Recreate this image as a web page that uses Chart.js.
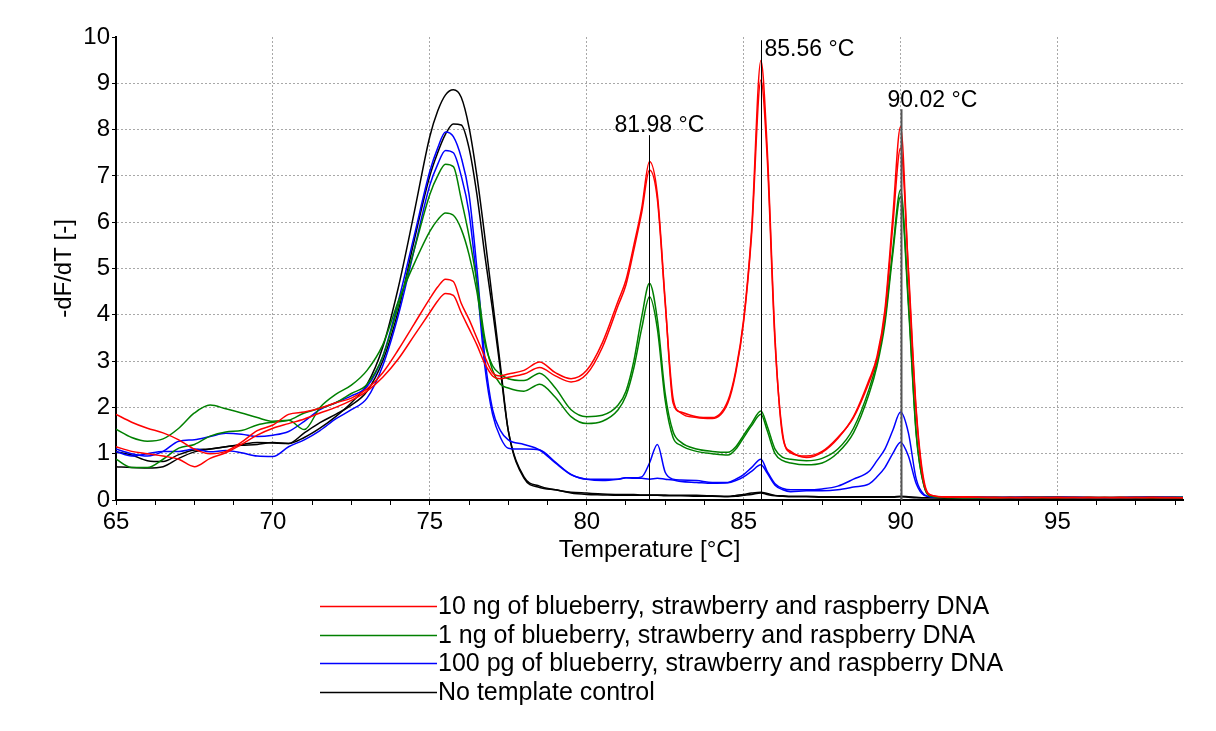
<!DOCTYPE html>
<html><head><meta charset="utf-8">
<script src="https://cdn.jsdelivr.net/npm/chart.js@4.4.1/dist/chart.umd.min.js"></script>
<style>html,body{margin:0;padding:0;background:#fff;} #wrap{width:1216px;height:731px;position:relative;}</style>
</head><body><div id="wrap"><canvas id="c"></canvas></div>
<script>
// ---- DATA ----
const temps = [65,65.5,66,66.5,67,67.5,68,68.5,69,69.5,70,70.5,71,71.5,72,72.5,73,73.5,74,74.5,75,
  75.25,75.5,75.75,76,76.25,76.5,76.75,77,77.25,77.5,
  78,78.5,79,79.5,80,80.5,81,
  81.25,81.5,81.75,82,82.25,82.5,82.75,83,
  83.5,84,84.5,
  84.75,85,85.25,85.55,85.75,86,86.25,86.5,
  87,87.5,88,88.5,89,
  89.25,89.5,89.75,90,90.25,90.5,90.75,91,
  91.5,92,
  93,94,95,96,97,98,99];

const red1 = [1.85,1.68,1.55,1.45,1.3,1.1,1.0,1.05,1.25,1.5,1.62,1.85,1.9,1.98,2.1,2.2,2.4,2.75,3.25,3.8,4.35,
  4.6,4.77,4.72,4.25,3.9,3.5,3.1,2.75,2.68,2.72,
  2.8,2.98,2.75,2.62,2.8,3.4,4.3,
  4.75,5.5,6.3,7.31,6.6,4.3,2.1,1.9,
  1.8,1.78,2.15,
  2.8,3.9,5.8,9.49,7.6,3.5,1.35,1.05,
  0.92,1.03,1.33,1.8,2.6,
  3.1,4.1,6.1,8.06,4.9,1.88,0.35,0.1,
  0.07,0.06,
  0.06,0.05,0.06,0.05,0.06,0.05,0.05];
const red2 = [1.15,1.05,1.0,0.95,0.88,0.72,0.9,1.02,1.2,1.4,1.55,1.65,1.75,1.88,2.0,2.15,2.35,2.65,3.05,3.55,4.05,
  4.3,4.46,4.42,4.05,3.7,3.35,2.95,2.68,2.62,2.65,
  2.72,2.86,2.68,2.55,2.72,3.3,4.2,
  4.65,5.4,6.2,7.13,6.5,4.25,2.2,1.88,
  1.78,1.76,2.1,
  2.75,3.85,5.7,9.07,7.4,3.4,1.4,1.02,
  0.95,1.05,1.35,1.78,2.55,
  3.05,4.0,5.9,7.6,5.0,1.95,0.4,0.1,
  0.06,0.07,
  0.05,0.06,0.05,0.06,0.05,0.06,0.05];
const green1 = [0.88,0.7,0.7,0.88,1.12,1.2,1.38,1.47,1.5,1.62,1.68,1.72,1.88,1.98,2.1,2.3,2.5,3.1,4.2,5.4,6.6,
  7.0,7.25,7.2,6.5,5.7,4.7,3.5,2.8,2.5,2.42,
  2.35,2.5,2.22,1.8,1.65,1.7,1.95,
  2.25,2.85,3.7,4.39,3.7,2.15,1.35,1.18,
  1.05,1.0,0.97,
  1.1,1.35,1.6,1.85,1.5,1.0,0.85,0.8,
  0.76,0.8,1.02,1.45,2.3,
  2.9,3.8,5.3,6.55,4.2,1.4,0.3,0.08,
  0.06,0.05,
  0.06,0.05,0.05,0.06,0.05,0.06,0.05];
const green2 = [1.53,1.35,1.27,1.32,1.55,1.88,2.05,1.97,1.88,1.78,1.7,1.72,1.52,2.0,2.28,2.48,2.8,3.35,4.3,5.1,5.8,
  6.05,6.2,6.15,5.85,5.3,4.5,3.4,2.9,2.72,2.62,
  2.58,2.74,2.42,1.95,1.8,1.83,2.05,
  2.35,3.0,3.95,4.68,3.9,2.3,1.48,1.25,
  1.1,1.05,1.03,
  1.15,1.4,1.65,1.92,1.6,1.1,0.92,0.88,
  0.85,0.9,1.1,1.55,2.4,
  3.0,3.9,5.4,6.7,4.3,1.45,0.3,0.08,
  0.05,0.06,
  0.05,0.06,0.06,0.05,0.06,0.05,0.06];
const blue1 = [1.1,1.0,0.95,1.05,1.27,1.3,1.37,1.44,1.42,1.37,1.4,1.48,1.7,1.95,2.1,2.25,2.45,3.1,4.3,5.7,7.1,
  7.6,7.95,7.85,7.4,6.6,5.0,3.1,1.95,1.5,1.3,
  1.2,1.08,0.8,0.55,0.45,0.45,0.45,
  0.48,0.48,0.5,0.8,1.2,0.6,0.45,0.43,
  0.42,0.38,0.38,
  0.45,0.55,0.7,0.88,0.62,0.35,0.25,0.22,
  0.22,0.24,0.3,0.45,0.62,
  0.85,1.1,1.5,1.9,1.45,0.45,0.12,0.07,
  0.06,0.07,
  0.06,0.07,0.06,0.05,0.06,0.07,0.06];
const blue2 = [1.05,0.95,1.0,1.05,1.05,1.1,1.04,1.07,1.02,0.95,0.94,1.15,1.3,1.5,1.75,1.95,2.2,2.9,4.0,5.4,6.8,
  7.25,7.55,7.5,7.0,6.2,4.7,2.9,1.85,1.35,1.12,
  1.1,1.08,0.82,0.55,0.45,0.42,0.45,
  0.48,0.47,0.47,0.45,0.47,0.45,0.43,0.4,
  0.38,0.36,0.37,
  0.42,0.5,0.62,0.76,0.58,0.32,0.22,0.18,
  0.2,0.2,0.22,0.28,0.35,
  0.5,0.7,1.0,1.25,0.95,0.35,0.1,0.07,
  0.07,0.06,
  0.06,0.05,0.07,0.06,0.05,0.06,0.06];
const black1 = [1.04,0.97,0.85,0.83,0.98,1.08,1.1,1.15,1.2,1.24,1.23,1.22,1.35,1.55,1.8,2.1,2.5,3.3,4.6,6.2,7.85,
  8.4,8.75,8.86,8.7,8.05,7.0,5.7,4.3,2.9,1.5,
  0.47,0.27,0.22,0.17,0.15,0.13,0.12,
  0.12,0.12,0.11,0.11,0.11,0.11,0.1,0.1,
  0.1,0.09,0.08,
  0.1,0.12,0.15,0.17,0.14,0.1,0.09,0.08,
  0.08,0.07,0.07,0.07,0.07,
  0.07,0.07,0.07,0.08,0.07,0.06,0.05,0.05,
  0.05,0.05,
  0.05,0.04,0.05,0.04,0.05,0.04,0.05];
const black2 = [0.72,0.7,0.69,0.72,0.9,1.04,1.1,1.15,1.18,1.2,1.24,1.22,1.45,1.67,1.85,2.05,2.35,3.0,4.1,5.6,7.0,
  7.5,7.9,8.12,8.1,7.6,6.6,5.3,4.1,2.8,1.5,
  0.5,0.3,0.22,0.15,0.12,0.11,0.1,
  0.1,0.1,0.1,0.1,0.1,0.09,0.09,0.09,
  0.08,0.08,0.07,
  0.08,0.1,0.12,0.15,0.12,0.09,0.08,0.07,
  0.07,0.06,0.06,0.06,0.06,
  0.06,0.06,0.06,0.07,0.06,0.05,0.05,0.05,
  0.04,0.05,
  0.05,0.04,0.04,0.05,0.04,0.05,0.04];

const seriesNames = [
  '10 ng of blueberry, strawberry and raspberry DNA',
  '1 ng of blueberry, strawberry and raspberry DNA',
  '100 pg of blueberry, strawberry and raspberry DNA',
  'No template control'
];
const markerTemps = [81.98, 85.56, 90.02];
const markerTops = [7.88, 9.93, 8.44];
const markerLabels = ['81.98 °C', '85.56 °C', '90.02 °C'];

// ---- STYLE ----
const FONT = "'Liberation Sans', Arial, sans-serif";
const seriesColors = ['#ff0000', '#008000', '#0000ff', '#000000'];
const groups = [[red1, red2], [green1, green2], [blue1, blue2], [black1, black2]];
const markerStyle = [
  {color: '#000', width: 1, dx: -35, textY: 132},
  {color: '#000', width: 1, dx: 3, textY: 56},
  {color: '#555', width: 2, dx: -14, textY: 107}
];

const datasets = [];
groups.forEach((g, gi) => {
  g.forEach((vals, k) => {
    datasets.push({
      label: seriesNames[gi] + ' #' + (k + 1),
      data: temps.map((t, i) => ({x: t, y: vals[i]})),
      borderColor: seriesColors[gi],
      borderWidth: 1.5,
      pointRadius: 0,
      fill: false,
      cubicInterpolationMode: 'monotone'
    });
  });
});

const isMult = (v, m) => Math.abs(v / m - Math.round(v / m)) < 1e-6;

const markersPlugin = {
  id: 'markers',
  afterDatasetsDraw(chart) {
    const {ctx, scales: {x, y}} = chart;
    ctx.save();
    markerTemps.forEach((t, i) => {
      const px = Math.round(x.getPixelForValue(t)) + 0.5;
      const st = markerStyle[i];
      ctx.strokeStyle = st.color;
      ctx.lineWidth = st.width;
      ctx.beginPath();
      ctx.moveTo(px, y.getPixelForValue(0));
      ctx.lineTo(px, y.getPixelForValue(markerTops[i]));
      ctx.stroke();
      ctx.fillStyle = '#000';
      ctx.font = '23px ' + FONT;
      ctx.textAlign = 'left';
      ctx.textBaseline = 'alphabetic';
      ctx.fillText(markerLabels[i], px + st.dx, st.textY);
    });
    ctx.restore();
  }
};

const legendPlugin = {
  id: 'customLegend',
  afterDraw(chart) {
    const {ctx} = chart;
    ctx.save();
    ctx.font = '25px ' + FONT;
    ctx.textBaseline = 'middle';
    ctx.textAlign = 'left';
    seriesNames.forEach((name, i) => {
      const yy = 606 + i * 28.7;
      ctx.strokeStyle = seriesColors[i];
      ctx.lineWidth = 1.5;
      ctx.beginPath();
      ctx.moveTo(320, Math.round(yy) + 0.5);
      ctx.lineTo(437, Math.round(yy) + 0.5);
      ctx.stroke();
      ctx.fillStyle = '#000';
      ctx.fillText(name, 438, yy + 1);
    });
    ctx.restore();
  }
};

new Chart(document.getElementById('c'), {
  type: 'line',
  data: {datasets},
  plugins: [markersPlugin, legendPlugin],
  options: {
    responsive: true,
    maintainAspectRatio: false,
    animation: false,
    devicePixelRatio: 1,
    layout: {padding: {left: 0, top: 37, right: 33, bottom: 161}},
    plugins: {legend: {display: false}, tooltip: {enabled: false}},
    scales: {
      x: {
        type: 'linear', min: 65, max: 99,
        afterFit(s) { s.height = 70; },
        ticks: {
          stepSize: 1.25, includeBounds: false, autoSkip: false, maxRotation: 0,
          padding: 3, color: '#000', font: {size: 24, family: FONT},
          callback: (v) => isMult(v, 5) ? String(v) : ''
        },
        grid: {
          color: (c) => (c.tick && c.tick.value > 65 && isMult(c.tick.value, 5)) ? '#a8a8a8' : 'rgba(0,0,0,0)',
          tickColor: '#000', tickLength: 5, lineWidth: 1, drawTicks: true
        },
        border: {display: true, color: '#000', width: 2, dash: [2, 2]},
        title: {display: true, text: 'Temperature [°C]', color: '#000',
          font: {size: 24, family: FONT}, padding: {top: 0, bottom: 5}}
      },
      y: {
        min: 0, max: 10,
        afterFit(s) { s.width = 116; },
        ticks: {stepSize: 1, color: '#000', padding: 2, font: {size: 24, family: FONT}},
        grid: {
          color: (c) => (c.tick && c.tick.value > 0 && c.tick.value < 10) ? '#a8a8a8' : 'rgba(0,0,0,0)',
          tickColor: '#000', tickLength: 4, lineWidth: 1
        },
        border: {display: true, color: '#000', width: 2, dash: [2, 2]},
        title: {display: true, text: '-dF/dT [-]', color: '#000',
          font: {size: 24, family: FONT}, padding: {top: 50, bottom: 0}}
      }
    }
  }
});
</script>
</body></html>
